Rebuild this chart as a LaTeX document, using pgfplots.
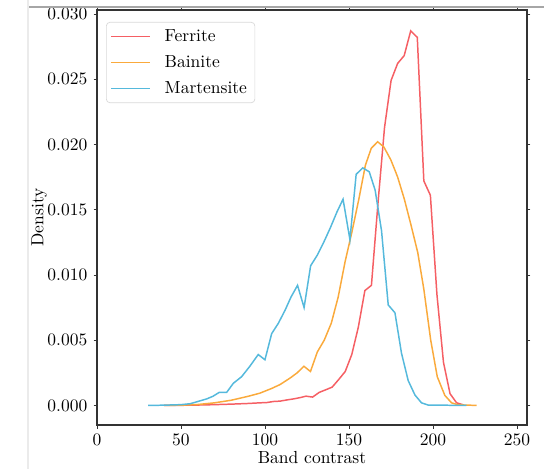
\documentclass[border=0pt]{standalone}
\usepackage{pgfplots}
\pgfplotsset{compat=1.18}
\usepackage{pgfplotstable}

\definecolor{ferr}{RGB}{245,95,100}
\definecolor{bain}{RGB}{250,170,60}
\definecolor{mart}{RGB}{85,185,220}

% band contrast histograms (density)
\pgfplotstableread{
x y
40 0
50 0.00001
60 0.00003
70 0.00006
80 0.0001
90 0.00015
97 0.0002
101 0.00022
105 0.0003
109 0.00033
113 0.00042
117 0.0005
121 0.0006
124.4 0.00071
128.4 0.00064
132.3 0.0010
136.2 0.0012
140 0.0014
144 0.0020
147.8 0.0026
151.7 0.0039
155.6 0.0060
159.5 0.0088
163.4 0.0092
167.3 0.0155
171.2 0.0213
175.1 0.0249
179 0.0262
182.9 0.0268
186.8 0.0287
190.7 0.0282
194.6 0.0172
198.5 0.0161
202.4 0.0085
206.3 0.0033
210.2 0.0009
214.1 0.0002
218 0.00005
}\ferrite

\pgfplotstableread{
x y
40 0
50 0.00002
60 0.00007
70 0.0002
80 0.0004
90 0.0007
97 0.00094
104 0.0013
109 0.0016
115 0.0021
119.2 0.0025
123.2 0.0030
127.1 0.0026
131.2 0.0041
135.3 0.0050
139.5 0.0063
143.6 0.0083
147.7 0.0110
151.8 0.0133
155.9 0.0158
159.8 0.0184
163.3 0.0197
167.1 0.0202
170.8 0.0198
175 0.0188
179 0.0175
183 0.0158
187 0.0138
191 0.0117
194.6 0.0089
198.7 0.0050
202.6 0.0022
207.1 0.00077
211.1 0.0002
215 0.00005
226 0
}\bainite

\pgfplotstableread{
x y
30.5 0
40 0.00002
50 0.00006
55.4 0.00013
60 0.0003
65.3 0.0005
69 0.0007
72.8 0.0010
77.2 0.0010
81.2 0.0017
86.1 0.0022
91 0.0030
96 0.0039
100 0.0035
104 0.0055
108 0.0063
112 0.0073
115.5 0.0083
119.4 0.0092
123.3 0.0075
127.2 0.0107
131.1 0.0115
135 0.0125
138.9 0.0136
142.8 0.0148
146.5 0.0158
150.6 0.0127
154.3 0.0177
158.2 0.0182
162.1 0.0179
165.6 0.0165
169.4 0.0134
173.4 0.0077
177.4 0.0071
181.3 0.0040
185.3 0.0019
189.3 0.0008
193.2 0.0002
197.2 0.00003
220 0
}\martensite

\begin{document}
\begin{tikzpicture}[x=0.5717pt,y=0.5717pt]
\begin{axis}[
	scale only axis,
	width=245.8pt,
	height=237.3pt,
	xmin=0, xmax=256,
	ymin=-0.0015, ymax=0.0303,
	xtick={0,50,100,150,200,250},
	ytick={0,0.005,0.01,0.015,0.02,0.025,0.03},
	scaled y ticks=false,
	yticklabel style={/pgf/number format/fixed,/pgf/number format/fixed zerofill,/pgf/number format/precision=3},
	tick align=outside,
	major tick length=2pt,
	tick style={black!80},
	axis line style={black!80, line width=0.7pt},
	xlabel={Band contrast},
	ylabel={Density},
	xlabel style={yshift=3.5pt},
	ylabel style={yshift=-6.5pt},
	legend cell align=left,
	legend style={draw=black!15, rounded corners=2pt, at={(0.021,0.971)}, anchor=north west,
		inner xsep=2.5pt, inner ysep=2pt, row sep=2.5pt,
		/tikz/every odd column/.append style={column sep=6pt}},
	legend image code/.code={\draw[#1] (0pt,0pt) -- (22pt,0pt);},
	every axis plot/.append style={line width=0.85pt},
	]
	\addplot[color=ferr, no marks] table[x=x,y=y]{\ferrite};
	\addlegendentry{Ferrite}
	\addplot[color=bain, no marks] table[x=x,y=y]{\bainite};
	\addlegendentry{Bainite}
	\addplot[color=mart, no marks] table[x=x,y=y]{\martensite};
	\addlegendentry{Martensite}
\end{axis}
% page frame of the screenshot
\draw[black!35, line width=0.6pt] (-69,418) -- (447,418);
\draw[black!8, line width=0.6pt] (-69,-44) -- (-69,425);
\pgfresetboundingbox
\path (-97,-44) rectangle (447,425);
\end{tikzpicture}
\end{document}
